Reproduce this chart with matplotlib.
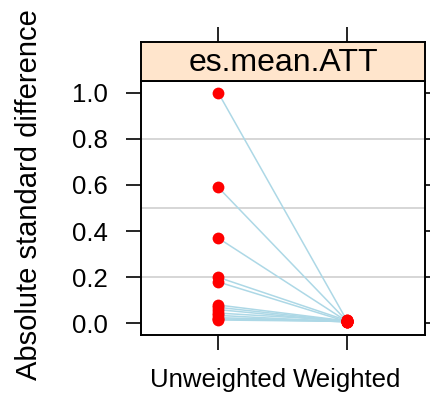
import matplotlib
matplotlib.use("Agg")
import matplotlib.pyplot as plt
import numpy as np

# Balance summary: absolute standardized mean differences per covariate
stages = ["Unweighted", "Weighted"]
unweighted = [1.00, 0.59, 0.37, 0.20, 0.18, 0.08, 0.07, 0.06, 0.045, 0.035, 0.025, 0.02, 0.015]
weighted = [0.015, 0.012, 0.010, 0.013, 0.008, 0.011, 0.009, 0.007, 0.012, 0.006, 0.010, 0.008, 0.009]
ref_lines = [0.2, 0.5, 0.8]
y_ticks = [0.0, 0.2, 0.4, 0.6, 0.8, 1.0]
strip_title = "es.mean.ATT"

plt.rcParams["font.family"] = ["Liberation Sans", "DejaVu Sans"]

W, H = 430, 416
fig = plt.figure(figsize=(W / 100, H / 100), dpi=100)

x0, x1 = 141, 425
y_strip_top, y_strip_bot, y_bot = 42, 81, 335
ax = fig.add_axes([x0 / W, (H - y_bot) / H, (x1 - x0) / W, (y_bot - y_strip_bot) / H])
sax = fig.add_axes([x0 / W, (H - y_strip_bot) / H, (x1 - x0) / W, (y_strip_bot - y_strip_top) / H],
                   sharex=ax)

xpos = np.arange(1, len(stages) + 1)

for y in ref_lines:
    ax.axhline(y, color="#cccccc", lw=1.1, zorder=1)

for u, w in zip(unweighted, weighted):
    ax.plot(xpos, [u, w], color="#add8e6", lw=1.1, zorder=2)

ax.plot(np.full(len(unweighted), xpos[0]), unweighted, "o", color="red", ms=8.5, mec="none", zorder=3)
ax.plot(np.full(len(weighted), xpos[1]), weighted, "o", color="red", ms=8.5, mec="none", zorder=3)

ax.set_xlim(0.4, 2.61)
ax.set_ylim(-0.05, 1.05)
ax.set_xticks(xpos)
ax.set_xticklabels(stages)
ax.set_yticks(y_ticks)
ax.set_yticklabels([f"{v:.1f}" for v in y_ticks])
ax.tick_params(axis="both", direction="out", length=11, width=1.2, labelsize=18.5, pad=13, colors="black")
ax.tick_params(axis="y", right=True, labelright=False)
for s in ax.spines.values():
    s.set_linewidth(1.4)

# strip panel header
sax.set_facecolor("#ffe5cc")
sax.set_ylim(0, 1)
sax.set_yticks([])
sax.tick_params(axis="x", bottom=False, labelbottom=False, top=True, labeltop=False,
                direction="out", length=11, width=1.2)
for s in sax.spines.values():
    s.set_linewidth(1.4)
sax.text(0.5, 0.47, strip_title, transform=sax.transAxes, ha="center", va="center",
         fontsize=23, color="black")

fig.text(29 / W, (H - 195) / H, "Absolute standard difference", rotation=90,
         ha="center", va="center", fontsize=21, color="black")

fig.savefig("out.png", dpi=100)
